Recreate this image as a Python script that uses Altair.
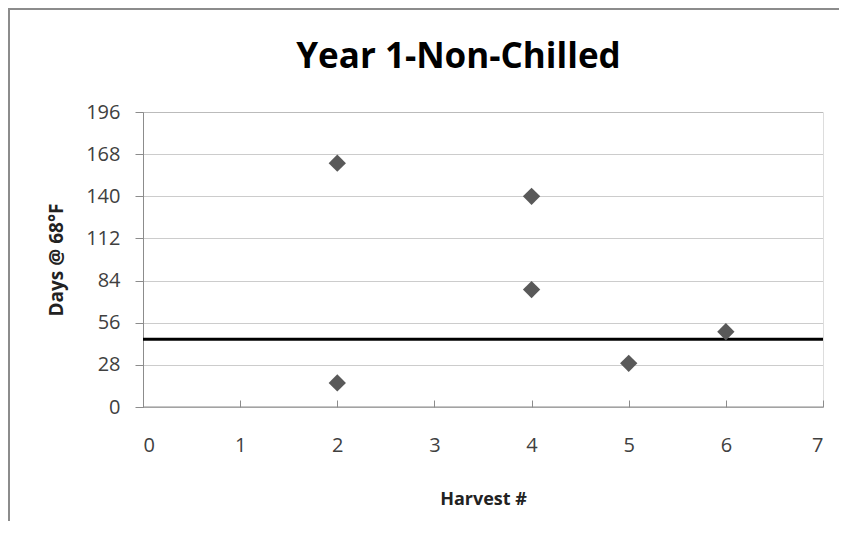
import altair as alt
import pandas as pd

# ---- data ----
harvest = [2, 2, 4, 4, 5, 6]
days = [162, 16, 140, 78, 29, 50]
threshold = [45]
x_ticks = [0, 1, 2, 3, 4, 5, 6, 7]
y_ticks = [0, 28, 56, 84, 112, 140, 168, 196]
title_text = ["Year 1-Non-Chilled"]

W, H = 680, 295
GRAY = "#8c8c8c"
LABEL_FONT = "Open Sans"
BOLD_FONT = "Open Sans"

pts = pd.DataFrame({"Harvest": harvest, "Days": days})
thr = pd.DataFrame({"Days": threshold})
base0 = pd.DataFrame({"Days": [0]})
ttl = pd.DataFrame({"t": title_text})

x_scale = alt.Scale(domain=[0, 7], nice=False, zero=False)
y_scale = alt.Scale(domain=[0, 196], nice=False)

x_axis = alt.Axis(
    values=x_ticks, title="Harvest #", grid=False, domain=False,
    ticks=True, tickSize=7, offset=-7, tickColor=GRAY, tickWidth=1,
    labelPadding=28, labelFont=LABEL_FONT, labelFontSize=20, labelColor="#404040",
    titleFont=BOLD_FONT, titleFontSize=18, titleFontWeight="bold",
    titleColor="#222222", titlePadding=35,
)
y_axis = alt.Axis(
    values=y_ticks, title="Days @ 68°F", grid=True, gridDash=[1, 1],
    gridColor="#999999", gridWidth=1, domain=True, domainColor=GRAY,
    ticks=True, tickSize=8, tickColor=GRAY, labelPadding=15,
    labelFont=LABEL_FONT, labelFontSize=20, labelColor="#404040",
    titleFont=BOLD_FONT, titleFontSize=19, titleFontWeight="bold",
    titleColor="#222222", titlePadding=19,
)

# chart-area frame (only top and left edges are visible in the reference)
frame_top = alt.Chart(base0).mark_rule(color=GRAY, strokeWidth=2, clip=False).encode(
    x=alt.value(-135), x2=alt.value(W + 60), y=alt.value(-103)
)
frame_left = alt.Chart(base0).mark_rule(color=GRAY, strokeWidth=2, clip=False).encode(
    x=alt.value(-134), y=alt.value(-104), y2=alt.value(H + 140)
)

points = alt.Chart(pts).mark_point(
    shape="diamond", filled=True, color="#595959", size=300, opacity=1
).encode(
    x=alt.X("Harvest:Q", scale=x_scale, axis=x_axis),
    y=alt.Y("Days:Q", scale=y_scale, axis=y_axis),
)

line = alt.Chart(thr).mark_rule(color="black", strokeWidth=3).encode(
    y=alt.Y("Days:Q", scale=y_scale)
)

xline = alt.Chart(base0).mark_rule(color=GRAY, strokeWidth=1).encode(
    y=alt.Y("Days:Q", scale=y_scale)
)

title = alt.Chart(ttl).mark_text(
    font=BOLD_FONT, fontSize=35, fontWeight="bold", color="black",
    align="center", baseline="alphabetic"
).encode(
    text="t:N", x=alt.value(315.5), y=alt.value(-44)
)

chart = alt.layer(frame_top, frame_left, line, xline, points, title).properties(
    width=W, height=H,
    autosize=alt.AutoSizeParams(type="none"),
    padding={"left": 135, "top": 104, "right": 16, "bottom": 114},
).configure_view(stroke=None).configure(background="white")

chart.save("out.html", embed_options={"renderer": "svg", "actions": False})
